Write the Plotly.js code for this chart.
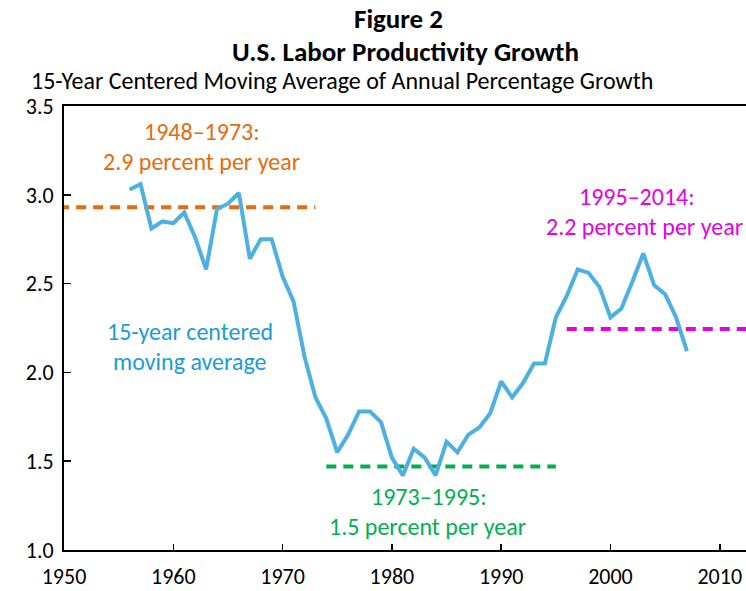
<!DOCTYPE html>
<html>
<head>
<meta charset="utf-8">
<script src="https://cdn.plot.ly/plotly-3.0.1.min.js"></script>
<style>html,body{margin:0;padding:0;background:#fff;}#chart{width:746px;height:591px;}</style>
</head>
<body>
<div id="chart"></div>
<script>
// ---- data ----
const years = [1956,1957,1958,1959,1960,1961,1962,1963,1964,1965,1966,1967,1968,1969,
  1970,1971,1972,1973,1974,1975,1976,1977,1978,1979,
  1980,1981,1982,1983,1984,1985,1986,1987,1988,1989,
  1990,1991,1992,1993,1994,1995,1996,1997,1998,1999,
  2000,2001,2002,2003,2004,2005,2006,2007];
const movingAvg = [3.03,3.06,2.81,2.85,2.84,2.90,2.76,2.58,2.92,2.95,3.01,2.64,2.75,2.75,
  2.54,2.40,2.09,1.86,1.74,1.55,1.65,1.78,1.78,1.72,
  1.52,1.42,1.57,1.52,1.42,1.61,1.55,1.65,1.69,1.77,
  1.95,1.86,1.94,2.05,2.05,2.31,2.43,2.58,2.56,2.48,
  2.31,2.36,2.51,2.67,2.49,2.44,2.31,2.12];
const period1Years = [1948, 1973];
const period1Avg = 2.93;
const period2Years = [1974, 1995];
const period2Avg = 1.47;
const period3Years = [1996, 2014];
const period3Avg = 2.245;
const yTicks = [1.0, 1.5, 2.0, 2.5, 3.0, 3.5];
const xTicks = [1950, 1960, 1970, 1980, 1990, 2000, 2010];

const FONT = 'Carlito, Lato, sans-serif';
const BLUE = '#4DB0E4', ORANGE = '#E46C0A', GREEN = '#00B050', MAGENTA = '#E600E6', BLUE_TXT = '#1A9BDB';

const traces = [
  {x: period1Years, y: period1Years.map(() => period1Avg), mode: 'lines',
   line: {color: ORANGE, width: 4, dash: '10px,7px'}, hoverinfo: 'skip'},
  {x: period2Years, y: period2Years.map(() => period2Avg), mode: 'lines',
   line: {color: GREEN, width: 4, dash: '10px,7px'}, hoverinfo: 'skip'},
  {x: period3Years, y: period3Years.map(() => period3Avg), mode: 'lines',
   line: {color: MAGENTA, width: 4, dash: '10px,7px'}, hoverinfo: 'skip'},
  {x: years, y: movingAvg, mode: 'lines', line: {color: BLUE, width: 4}}
];

function ann(text, x, y, color, size, ref) {
  return {text: text, x: x, y: y, xref: ref || 'x', yref: ref || 'y', showarrow: false,
    xanchor: 'center', yanchor: 'middle', font: {family: FONT, size: size, color: color}};
}

const LBL = 24;
const annotations = [
  ann('<b>Figure 2</b>', 0.490, 1.198, '#000', 27, 'paper'),
  ann('<b>U.S. Labor Productivity Growth</b>', 0.500, 1.122, '#000', 27, 'paper'),
  ann('15-Year Centered Moving Average of Annual Percentage Growth', 0.4076, 1.058, '#000', 24, 'paper'),
  ann('1948–1973:', 1962.6, 3.355, ORANGE, LBL),
  ann('2.9 percent per year', 1962.6, 3.186, ORANGE, LBL),
  ann('15-year centered', 1961.5, 2.229, BLUE_TXT, LBL),
  ann('moving average', 1961.5, 2.06, BLUE_TXT, LBL),
  ann('1973–1995:', 1983.4, 1.30, GREEN, LBL),
  ann('1.5 percent per year', 1983.3, 1.131, GREEN, LBL),
  ann('1995–2014:', 2002.4, 2.99, MAGENTA, LBL),
  ann('2.2 percent per year', 2003.1, 2.82, MAGENTA, LBL)
];

const layout = {
  width: 746, height: 591,
  margin: {l: 64, r: 0, t: 106, b: 41, pad: 0},
  paper_bgcolor: '#fff', plot_bgcolor: '#fff',
  showlegend: false,
  font: {family: FONT, size: 22, color: '#000'},
  xaxis: {range: [1950, 2012.4], tickvals: xTicks, ticktext: xTicks.map(String),
    ticks: 'inside', ticklen: 6, tickwidth: 1.5, tickcolor: '#000',
    showline: true, linecolor: '#000', linewidth: 2, mirror: true,
    showgrid: false, zeroline: false, ticklabelstandoff: 6,
    tickfont: {family: FONT, size: 22, color: '#000'}},
  yaxis: {range: [1, 3.5], tickvals: yTicks, ticktext: yTicks.map(v => v.toFixed(1)),
    ticks: 'inside', ticklen: 7, tickwidth: 1.5, tickcolor: '#000',
    showline: true, linecolor: '#000', linewidth: 2,
    showgrid: false, zeroline: false, ticklabelstandoff: 4,
    tickfont: {family: FONT, size: 22, color: '#000'}},
  annotations: annotations
};

Plotly.newPlot('chart', traces, layout, {displayModeBar: false, staticPlot: true});
</script>
</body>
</html>
